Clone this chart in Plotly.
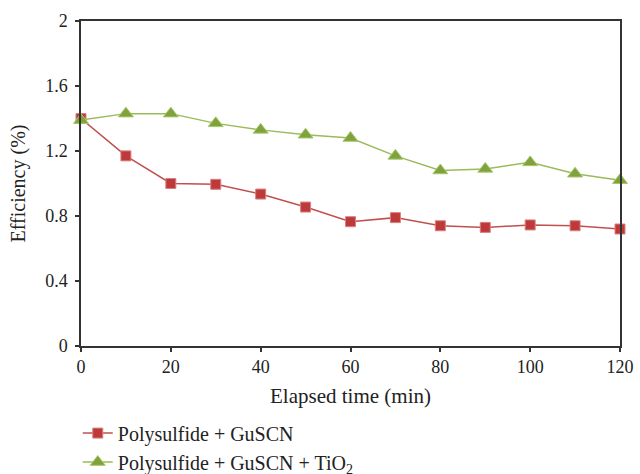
import plotly.graph_objects as go

time_min = [0, 10, 20, 30, 40, 50, 60, 70, 80, 90, 100, 110, 120]
eff_gu = [1.40, 1.17, 1.00, 0.995, 0.935, 0.855, 0.765, 0.79, 0.74, 0.73, 0.745, 0.74, 0.72]
eff_gu_tio2 = [1.39, 1.43, 1.43, 1.37, 1.33, 1.30, 1.28, 1.17, 1.08, 1.09, 1.13, 1.06, 1.02]

font = "Liberation Serif"
axis_col = "#333333"

fig = go.Figure()
fig.add_trace(go.Scatter(
    x=time_min, y=eff_gu, mode="lines+markers", name="Polysulfide + GuSCN",
    line=dict(color="#C0504D", width=1.5),
    marker=dict(symbol="square", size=10, color="#BE3A3A", line=dict(color="#D98080", width=1)),
    cliponaxis=False,
))
fig.add_trace(go.Scatter(
    x=time_min, y=eff_gu_tio2, mode="lines+markers", name="Polysulfide + GuSCN + TiO<sub>2</sub>",
    line=dict(color="#9BBB59", width=1.5),
    marker=dict(symbol="triangle-up", size=13, color="#7FA33A", line=dict(color="#A9C66E", width=1)),
    cliponaxis=False,
))

fig.update_layout(
    width=640, height=474,
    margin=dict(l=81, r=20, t=21, b=128, autoexpand=False),
    paper_bgcolor="white", plot_bgcolor="white",
    font=dict(family=font, size=18, color="#222"),
    showlegend=True,
    legend=dict(x=-0.006, y=-0.208, xanchor="left", yanchor="top",
                orientation="v", font=dict(family=font, size=20),
                tracegroupgap=0, bgcolor="rgba(0,0,0,0)"),
    xaxis=dict(range=[0, 120], dtick=20, showline=True, linecolor=axis_col, linewidth=1.5,
               mirror=True, ticks="outside", ticklen=4, tickcolor=axis_col, tickwidth=1.5,
               showgrid=False, zeroline=False, automargin=False,
               tickfont=dict(family=font, size=18),
               title=dict(text="Elapsed time (min)", font=dict(family=font, size=21), standoff=12)),
    yaxis=dict(range=[0, 2], dtick=0.4, showline=True, linecolor=axis_col, linewidth=1.5,
               mirror=True, ticks="outside", ticklen=4, tickcolor=axis_col, tickwidth=1.5,
               showgrid=False, zeroline=False, automargin=False,
               ticklabelstandoff=4,
               tickfont=dict(family=font, size=18),
               title=dict(text="Efficiency (%)", font=dict(family=font, size=20), standoff=14)),
)

fig.write_html("out.html", config={"displayModeBar": False},
               post_script="document.body.style.margin='0';")
